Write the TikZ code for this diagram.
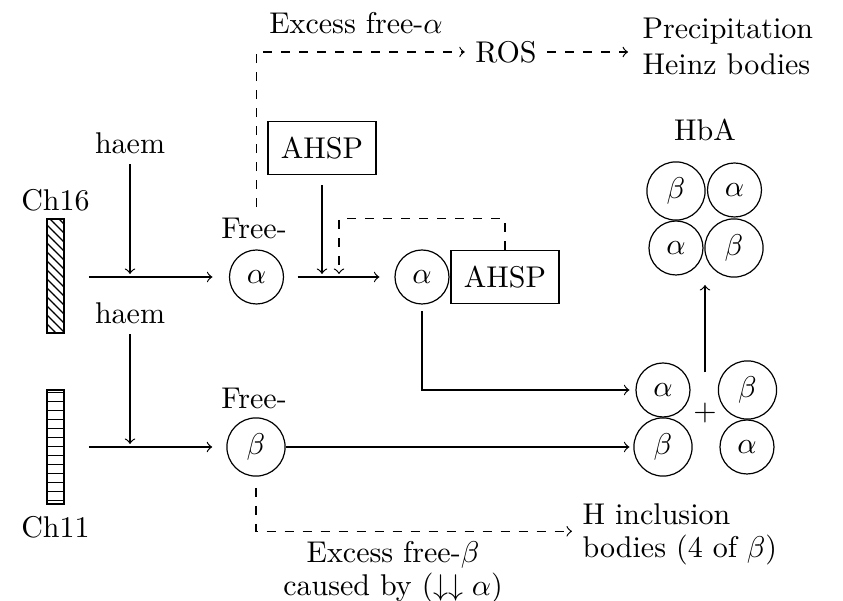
\documentclass[tikz,border=0pt]{standalone}
\usetikzlibrary{patterns}
\begin{document}
\begin{tikzpicture}[x=0.33333pt,y=-0.33333pt,
  achain/.style={circle,draw,inner sep=0pt,minimum size=18pt},
  bchain/.style={circle,draw,inner sep=0pt,minimum size=19.4pt},
  protbox/.style={draw,inner xsep=4.3pt,inner ysep=0pt,minimum height=17.7pt},
  chrom/.style={draw,inner sep=0pt,minimum width=5.67pt,minimum height=38pt},
  arr/.style={->},
  darr/.style={->,dashed}]
\useasboundingbox (0,0) rectangle (843,601);

% chromosomes
\node (ch16) at (55.5,200) {Ch16};
\node[chrom,pattern=north west lines] (bar16) at (55.5,276) {};
\node[chrom,pattern=horizontal lines] (bar11) at (55.5,447) {};
\node (ch11) at (55.5,527) {Ch11};

% haem
\node (haem1) at (130,143) {haem};
\node (haem2) at (130,313) {haem};
\coordinate (j1) at (130,274);
\coordinate (j2) at (130,444);
\coordinate (s16) at (89,277);
\coordinate (s11) at (89,447);

% free chains
\node (free1) at (254,228) {Free-};
\node[achain] (a1) at (256.5,277) {$\alpha$};
\node (free2) at (254,398) {Free-};
\node[bchain] (b1) at (256,447) {$\beta$};

% AHSP
\node[protbox] (ahsp1) at (322,148) {AHSP};
\coordinate (j3) at (322,274);
\coordinate (j4) at (339,274);
\node[achain] (a2) at (422,277) {$\alpha$};
\node[protbox] (ahsp2) at (505,277) {AHSP};

% dimers
\node[achain] (c1) at (663,390) {$\alpha$};
\node[bchain] (c2) at (663,447) {$\beta$};
\node[bchain] (c3) at (747.5,390) {$\beta$};
\node[achain] (c4) at (747,447) {$\alpha$};
\node[inner sep=0pt] (plus) at (705,413) {$+$};

% HbA
\node (hba) at (705,130) {HbA};
\node[bchain] (h1) at (676,191) {$\beta$};
\node[achain] (h2) at (734.5,190) {$\alpha$};
\node[achain] (h3) at (676,248) {$\alpha$};
\node[bchain] (h4) at (734,248) {$\beta$};
\coordinate (hbas) at (705,285);

% top
\node (exa) at (356,23) {Excess free-$\alpha$};
\node (ros) at (506,52) {ROS};
\node[anchor=west,align=left] (prec) at (632,46) {Precipitation\\Heinz bodies};

% bottom
\node[anchor=west,align=left] (hinc) at (572,534) {H inclusion\\[-1pt]bodies (4 of $\beta$)};
\node[align=center] (exb) at (393,572) {Excess free-$\beta$\\[-1pt]caused by $(\downarrow\downarrow\alpha)$};

% connectors
\draw[arr] (haem1) -- (j1);
\draw[arr] (haem2) -- (j2);
\draw[arr,shorten >=5.5pt] (s16) -- (a1);
\draw[arr,shorten >=4.7pt] (s11) -- (b1);
\draw[arr,shorten <=4.5pt,shorten >=5pt] (a1) -- (a2);
\draw[arr,shorten <=3.3pt] (ahsp1) -- (j3);
\draw[darr] (ahsp2.north) -- ++(0,-31) -| (j4);
\draw[arr,shorten <=2.3pt,shorten >=2pt] (a2) |- (c1);
\draw[arr,shorten >=1.3pt] (b1) -- (c2);
\draw[arr,shorten <=10pt] (plus.north) -- (hbas);
\draw[darr] (a1 |- free1.north) |- (ros);
\draw[darr,shorten >=1.3pt] (ros) -- (ros -| prec.west);
\draw[darr,shorten <=3.7pt] (b1) |- ([yshift=0.9pt]hinc.west);
\end{tikzpicture}
\end{document}
